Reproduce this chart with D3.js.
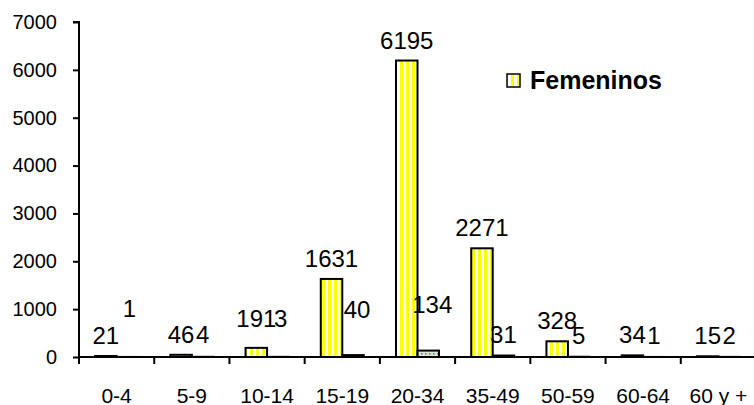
<!DOCTYPE html>
<html><head><meta charset="utf-8">
<script src="https://cdn.jsdelivr.net/npm/d3@7"></script>
<style>body{margin:0;background:#fff}svg{display:block;font-family:"Liberation Sans",Arial,sans-serif}</style>
</head><body><svg id="c" width="754" height="405"></svg>
<script>
const categories = ["0-4","5-9","10-14","15-19","20-34","35-49","50-59","60-64","60 y +"];
const femeninos = [21,46,191,1631,6195,2271,328,34,15];
const masculinos = [1,4,3,40,134,31,5,1,2];
const yTicks = [0,1000,2000,3000,4000,5000,6000,7000];
const legendLabel = "Femeninos";
// label nudges (layout only)
const femLabelDy = [0,0,-9,0,0,0,0,0,0];
const masLabelNudge = [[2,-27],[0,-1],[3,-17],[4,-24],[4,-25],[0,0],[0,0],[0,0],[0,0]];

const svg = d3.select("#c");
const defs = svg.append("defs");
const p1 = defs.append("pattern").attr("id","stripes").attr("patternUnits","userSpaceOnUse")
  .attr("width",6).attr("height",6).attr("x",1);
p1.append("rect").attr("width",6).attr("height",6).attr("fill","#ffffff");
p1.append("rect").attr("x",3).attr("width",3).attr("height",6).attr("fill","#ffff00");
const p2 = defs.append("pattern").attr("id","dots").attr("patternUnits","userSpaceOnUse")
  .attr("width",4).attr("height",4);
p2.append("rect").attr("width",4).attr("height",4).attr("fill","#d8e4d8");
p2.append("rect").attr("x",1).attr("y",1).attr("width",1.5).attr("height",1.5).attr("fill","#5f7f5f");

const x0 = 79, x1 = 756, yTop = 22, yBase = 357;
const x = d3.scaleBand().domain(categories).range([x0, x1]).paddingInner(0).paddingOuter(0);
const xi = d3.scaleBand().domain(["f","m"]).range([0, x.bandwidth()]).paddingInner(0).paddingOuter(0.75);
const y = d3.scaleLinear().domain([0,7000]).range([yBase, yTop]);

const rows = categories.map((c,i)=>({c, f: femeninos[i], m: masculinos[i], i}));

// bars
const g = svg.append("g");
g.selectAll("rect.f").data(rows).join("rect").attr("class","f")
  .attr("x", d=>x(d.c)+xi("f")).attr("width", xi.bandwidth())
  .attr("y", d=>y(d.f)).attr("height", d=>yBase - y(d.f))
  .attr("fill","url(#stripes)").attr("stroke","#000").attr("stroke-width",2);
g.selectAll("rect.m").data(rows).join("rect").attr("class","m")
  .attr("x", d=>x(d.c)+xi("m")).attr("width", xi.bandwidth())
  .attr("y", d=>y(d.m)).attr("height", d=>yBase - y(d.m))
  .attr("fill","url(#dots)").attr("stroke","#000").attr("stroke-width",2);

// y axis
const ya = svg.append("g").attr("transform",`translate(${x0},0)`)
  .call(d3.axisLeft(y).tickValues(yTicks).tickSize(6).tickPadding(16).tickFormat(d3.format("d")));
ya.select(".domain").attr("stroke","#000").attr("stroke-width",2).attr("d",`M-6,${yTop}H0V${yBase}`);
ya.selectAll(".tick line").attr("stroke","#000").attr("stroke-width",2);
ya.selectAll(".tick text").attr("font-size",20).attr("fill","#000").attr("font-family","'Liberation Sans',Arial,sans-serif");

// x axis
const xa = svg.append("g").attr("transform",`translate(0,${yBase})`)
  .call(d3.axisBottom(x).tickSize(0));
xa.select(".domain").remove();
xa.selectAll(".tick text").attr("y",46).attr("dy",0).attr("font-size",21).attr("fill","#000")
  .attr("font-family","'Liberation Sans',Arial,sans-serif");
xa.append("line").attr("x1",x0).attr("x2",x1+2).attr("y1",0).attr("y2",0).attr("stroke","#000").attr("stroke-width",2);
const bounds = categories.map(c=>x(c)).concat([x(categories[categories.length-1])+x.bandwidth()]);
xa.selectAll("line.bt").data(bounds).join("line").attr("class","bt")
  .attr("x1",d=>d).attr("x2",d=>d).attr("y1",0).attr("y2",7).attr("stroke","#000").attr("stroke-width",2);

// data labels
const lg = svg.append("g").attr("font-size",24).attr("fill","#000").attr("text-anchor","middle");
lg.selectAll("text.fl").data(rows).join("text").attr("class","fl")
  .attr("x", d=>x(d.c)+xi("f")+xi.bandwidth()/2)
  .attr("y", d=>y(d.f) - 12 + femLabelDy[d.i])
  .text(d=>d.f);
lg.selectAll("text.ml").data(rows).join("text").attr("class","ml")
  .attr("x", d=>x(d.c)+xi("m")+xi.bandwidth()/2 + masLabelNudge[d.i][0])
  .attr("y", d=>y(d.m) - 13 + masLabelNudge[d.i][1])
  .text(d=>d.m);

// legend
const leg = svg.append("g").attr("transform","translate(507,74)");
leg.append("rect").attr("width",13).attr("height",13).attr("fill","url(#stripes)").attr("stroke","#000").attr("stroke-width",1.5);
leg.append("text").attr("x",23).attr("y",15).attr("font-size",25).attr("font-weight","bold").attr("fill","#000").text(legendLabel);
</script></body></html>
